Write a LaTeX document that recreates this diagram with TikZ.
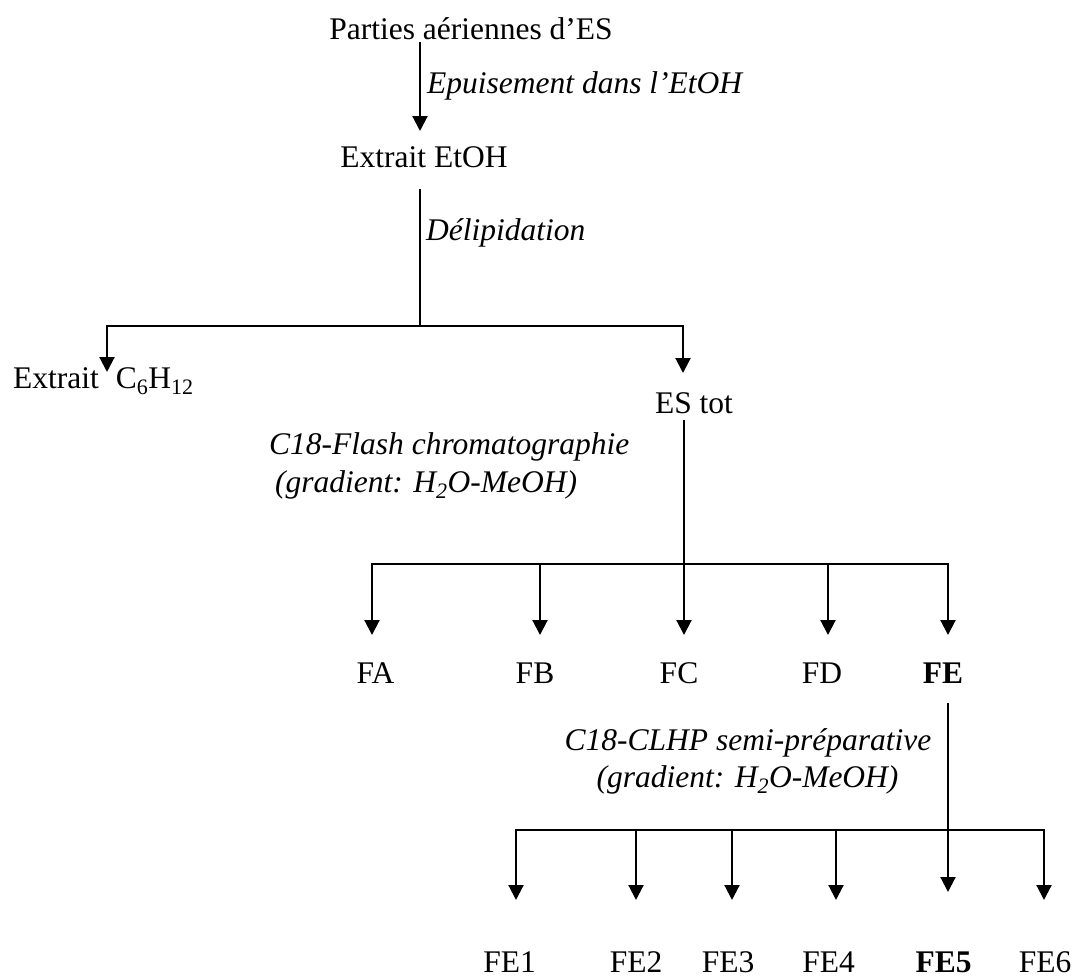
\documentclass[tikz,border=0pt]{standalone}
\usepackage{fontspec}
\setmainfont{Liberation Serif}
\usetikzlibrary{arrows.meta}
\begin{document}
\begin{tikzpicture}[x=1pt,y=-1pt,
  lbl/.style={inner sep=0pt, font=\fontsize{31.5}{38}\selectfont, anchor=base},
  lbli/.style={lbl, font=\fontsize{31.5}{38}\selectfont\itshape},
  ln/.style={line width=2.1pt},
  arr/.style={ln, -{Triangle[width=15pt,length=15pt]}}]
\useasboundingbox (0,0) rectangle (1074,978);

% texts
\node[lbl] (parties) at (471,39) {Parties aériennes d’ES};
\node[lbli, anchor=base west] (epuis) at (427,93) {Epuisement dans l’EtOH};
\node[lbl] (etoh) at (424,167) {Extrait EtOH};
\node[lbli, anchor=base west] (delip) at (426,240) {Délipidation};
\node[lbl, anchor=base west] (hex) at (13,388) {Extrait\hspace{17pt}C\textsubscript{6}H\textsubscript{12}};
\node[lbl] (estot) at (694,413) {ES tot};
\node[lbli, anchor=base west] (flash1) at (269,454) {C18-Flash chromatographie};
\node[lbli, anchor=base west] (flash2) at (275,492) {(gradient: H\textsubscript{2}O-MeOH)};
\node[lbl] (FA) at (375.5,683) {FA};
\node[lbl] (FB) at (535,683) {FB};
\node[lbl] (FC) at (679,683) {FC};
\node[lbl] (FD) at (822,683) {FD};
\node[lbl] (FE) at (943,683) {\textbf{FE}};
\node[lbli] (clhp1) at (748,750) {C18-CLHP semi-préparative};
\node[lbli] (clhp2) at (747.5,787) {(gradient: H\textsubscript{2}O-MeOH)};
\node[lbl] (FE1) at (509.5,972) {FE1};
\node[lbl] (FE2) at (636,972) {FE2};
\node[lbl] (FE3) at (728,972) {FE3};
\node[lbl] (FE4) at (828.5,972) {FE4};
\node[lbl] (FE5) at (943.5,972) {\textbf{FE5}};
\node[lbl] (FE6) at (1045,972) {FE6};

% connector points
\coordinate (t1top) at (420,42);
\coordinate (t1tip) at (420,131);
\coordinate (t2top) at (420,189);
\coordinate (j2) at (420,326);
\coordinate (hexTip) at (107,372);
\coordinate (esTip) at (683,373);
\coordinate (t3top) at (684,420);
\coordinate (j3) at (684,564);
\coordinate (tFA) at (372,635);
\coordinate (tFB) at (540,635);
\coordinate (tFC) at (684,635);
\coordinate (tFD) at (828,635);
\coordinate (tFE) at (948,635);
\coordinate (t4top) at (948,703);
\coordinate (j4) at (948,830);
\coordinate (tFE1) at (516,900);
\coordinate (tFE2) at (636,900);
\coordinate (tFE3) at (732,900);
\coordinate (tFE4) at (836,900);
\coordinate (tFE5) at (948,892);
\coordinate (tFE6) at (1044,900);

% connectors
\draw[arr] (t1top) -- (t1tip);
\draw[ln] (t2top) -- (j2);
\draw[arr] (j2) -| (hexTip);
\draw[arr] (j2) -| (esTip);
\draw[ln] (t3top) -- (j3);
\foreach \t in {tFA,tFB,tFC,tFD,tFE} \draw[arr] (j3) -| (\t);
\draw[arr] (t4top) -- (tFE5);
\foreach \t in {tFE1,tFE2,tFE3,tFE4,tFE6} \draw[arr] (j4) -| (\t);
\end{tikzpicture}
\end{document}
